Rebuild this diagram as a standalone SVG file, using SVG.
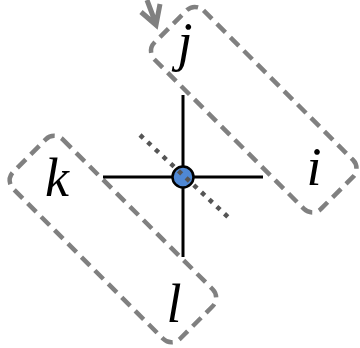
<svg xmlns="http://www.w3.org/2000/svg" width="360" height="348" viewBox="0 0 360 348">
<style>
.box{fill:none;stroke:#808080;stroke-width:4.5;stroke-dasharray:12 7}
.edge{stroke:#000;stroke-width:3;fill:none}
.dot{stroke:#555;stroke-width:4.5;stroke-dasharray:4.5 6;fill:none}
.lbl{font-family:"Liberation Serif","Times New Roman",serif;font-style:italic;font-size:54px;fill:#000;text-anchor:middle}
.arr{stroke:#808080;stroke-width:5;fill:none;stroke-linejoin:miter}
</style>
<rect width="360" height="348" fill="#fff"/>
<g id="group-ji">
<rect class="box" transform="rotate(45)" x="139.3" y="-136.5" width="235.4" height="69.3" rx="12"/>
<text class="lbl" x="185" y="60">j</text>
<text class="lbl" x="314" y="185">i</text>
</g>
<g id="group-kl">
<rect class="box" transform="rotate(45)" x="130.9" y="54.2" width="236" height="70" rx="12"/>
<text class="lbl" x="57" y="196">k</text>
<text class="lbl" x="174" y="322">l</text>
</g>
<g id="arrow">
<path class="arr" d="M147,0 L156,24 M141,12 L156,25 L160,4"/>
</g>
<g id="connectors">
<line class="edge" x1="103" y1="177" x2="263" y2="177"/>
<line class="edge" x1="183" y1="95" x2="183" y2="257"/>
</g>
<g id="vertex">
<circle cx="183" cy="177" r="10.5" fill="#4f88d4" stroke="#000" stroke-width="2.5"/>
</g>
<g id="cut">
<line class="dot" x1="140" y1="135" x2="228" y2="217"/>
</g>
</svg>
